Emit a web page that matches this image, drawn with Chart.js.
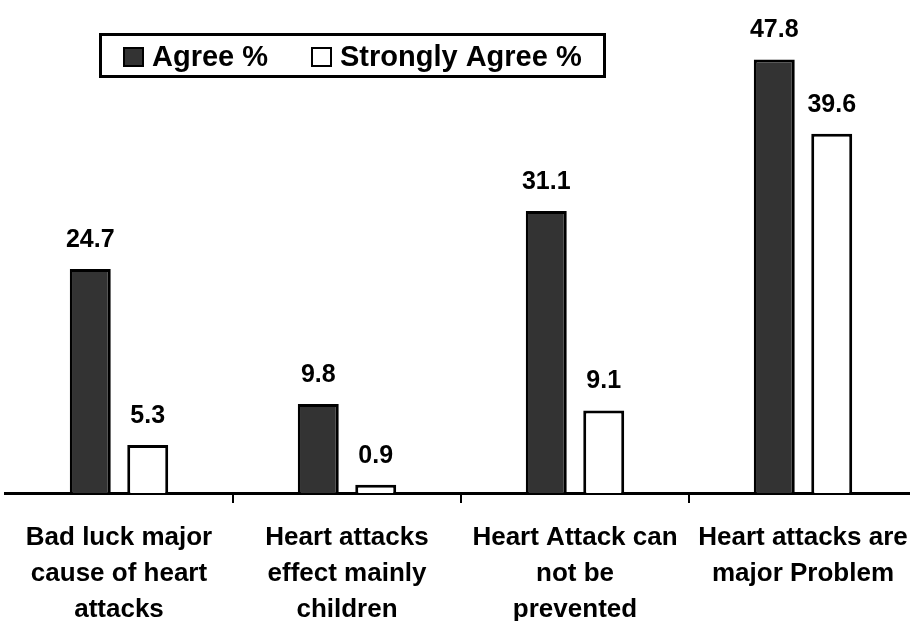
<!DOCTYPE html>
<html>
<head>
<meta charset="utf-8">
<script src="https://cdn.jsdelivr.net/npm/chart.js@4.4.1/dist/chart.umd.min.js"></script>
<style>
  html, body { margin: 0; padding: 0; background: #fff; overflow: hidden; }
  #wrap { width: 930px; height: 621px; }
</style>
</head>
<body>
<div id="wrap"><canvas id="heartChart" width="930" height="621"></canvas></div>
<script>
const categories = [
  ["Bad luck major", "cause of heart", "attacks"],
  ["Heart attacks", "effect mainly", "children"],
  ["Heart Attack can", "not be", "prevented"],
  ["Heart attacks are", "major Problem"]
];
const agree = [24.7, 9.8, 31.1, 47.8];
const stronglyAgree = [5.3, 0.9, 9.1, 39.6];
const seriesNames = ["Agree %", "Strongly Agree %"];

const FONT = "'Liberation Sans', Arial, sans-serif";

// value labels above each bar
const barLabels = {
  id: "barLabels",
  afterDatasetsDraw(chart) {
    const ctx = chart.ctx;
    ctx.save();
    ctx.font = "bold 25px " + FONT;
    ctx.fillStyle = "#000";
    ctx.textAlign = "center";
    ctx.textBaseline = "alphabetic";
    chart.data.datasets.forEach((ds, i) => {
      chart.getDatasetMeta(i).data.forEach((bar, j) => {
        ctx.fillText(ds.data[j].toFixed(1), bar.x, bar.y - 22);
      });
    });
    ctx.restore();
  }
};

// boxed legend sitting inside the plot
const boxLegend = {
  id: "boxLegend",
  afterDraw(chart) {
    const ctx = chart.ctx;
    ctx.save();
    ctx.fillStyle = "#fff";
    ctx.fillRect(100, 34, 504, 42);
    ctx.lineWidth = 3;
    ctx.strokeStyle = "#000";
    ctx.strokeRect(100.5, 34.5, 504, 42);
    ctx.font = "bold 29px " + FONT;
    ctx.textBaseline = "alphabetic";
    ctx.textAlign = "left";
    const xs = [123, 311];
    chart.data.datasets.forEach((ds, i) => {
      ctx.fillStyle = ds.backgroundColor;
      ctx.fillRect(xs[i], 47, 21, 20);
      ctx.lineWidth = 2;
      ctx.strokeStyle = "#000";
      ctx.strokeRect(xs[i] + 1, 48, 19, 18);
      ctx.fillStyle = "#000";
      ctx.fillText(ds.label, xs[i] + 29, 66);
    });
    ctx.restore();
  }
};

new Chart(document.getElementById("heartChart"), {
  type: "bar",
  data: {
    labels: categories,
    datasets: [
      {
        label: seriesNames[0],
        data: agree,
        backgroundColor: "#333333",
        borderColor: "#000",
        borderWidth: 3
      },
      {
        label: seriesNames[1],
        data: stronglyAgree,
        backgroundColor: "#ffffff",
        borderColor: "#000",
        borderWidth: 3
      }
    ]
  },
  options: {
    responsive: false,
    animation: false,
    layout: { padding: { top: 39.5, left: 5, right: 13, bottom: 0 } },
    datasets: {
      bar: { categoryPercentage: 0.504, barPercentage: 0.713 }
    },
    scales: {
      x: {
        offset: true,
        border: { color: "#000", width: 3 },
        grid: {
          offset: true,
          drawOnChartArea: false,
          tickLength: 10,
          lineWidth: 2,
          color: (c) => (c.index === 0 ? "rgba(0,0,0,0)" : "#000")
        },
        ticks: {
          color: "#000",
          padding: 17,
          maxRotation: 0,
          autoSkip: false,
          font: { family: FONT, size: 26, weight: "bold", lineHeight: 1.385 }
        },
        afterFit(scale) { scale.height = 128; }
      },
      y: {
        display: false,
        min: 0,
        max: 50
      }
    },
    plugins: {
      legend: { display: false },
      tooltip: { enabled: false }
    }
  },
  plugins: [barLabels, boxLegend]
});
</script>
</body>
</html>
